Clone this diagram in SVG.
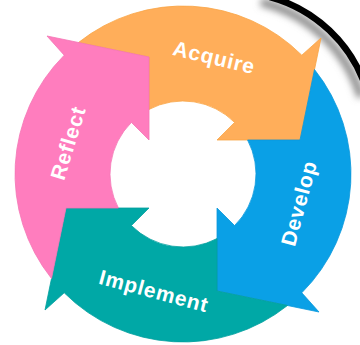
<svg xmlns="http://www.w3.org/2000/svg" xmlns:xlink="http://www.w3.org/1999/xlink" width="360" height="345" viewBox="0 0 360 345">
  <defs>
    <style>
      .lbl { font-family: "Liberation Sans", Arial, sans-serif; font-weight: bold; font-size: 21px; fill: #ffffff; letter-spacing: 0.8px; text-anchor: middle; }
      .arrow { stroke-width: 0.8; stroke-linejoin: miter; }
    </style>
    <path id="arrowShape" d="M -104.5,-131.5 A 168 168 0 0 1 118.8,-118.8 L 138,-136 L 117,-34 L 34,-34 L 51.6,-51.6 A 73 73 0 0 0 -34,-64.6 L -34,-117 Z"/>
    <filter id="shadow" x="-50%" y="-50%" width="200%" height="200%">
      <feGaussianBlur stdDeviation="3.5"/>
    </filter>
  </defs>
  <rect width="360" height="345" fill="#ffffff"/>

  <g id="frame-arc">
    <path d="M 266,-3 A 140 140 0 0 1 366,92" fill="none" stroke="#8a8a8a" stroke-width="8" filter="url(#shadow)" transform="translate(-5,5)"/>
    <path d="M 270,-3 A 140 140 0 0 1 366,88" fill="none" stroke="#000000" stroke-width="6.5"/>
  </g>

  <g id="connectors"></g>

  <g id="acquire">
    <use xlink:href="#arrowShape" class="arrow" fill="#FFAE5A" stroke="#F9A445" transform="translate(183,174)"/>
    <text class="lbl" transform="translate(212.5,64.5) rotate(13.5)">Acquire</text>
  </g>
  <g id="develop">
    <use xlink:href="#arrowShape" class="arrow" fill="#0AA0E6" stroke="#0A98DC" transform="translate(183,174) rotate(90)"/>
    <text class="lbl" transform="translate(306,205) rotate(-75)">Develop</text>
  </g>
  <g id="implement">
    <use xlink:href="#arrowShape" class="arrow" fill="#00A8A6" stroke="#02A09E" transform="translate(183,174) rotate(180)"/>
    <text class="lbl" transform="translate(152,298) rotate(15)">Implement</text>
  </g>
  <g id="reflect">
    <use xlink:href="#arrowShape" class="arrow" fill="#FF7DBE" stroke="#F476B5" transform="translate(183,174) rotate(270)"/>
    <text class="lbl" transform="translate(75,145) rotate(-73)">Reflect</text>
  </g>
</svg>
